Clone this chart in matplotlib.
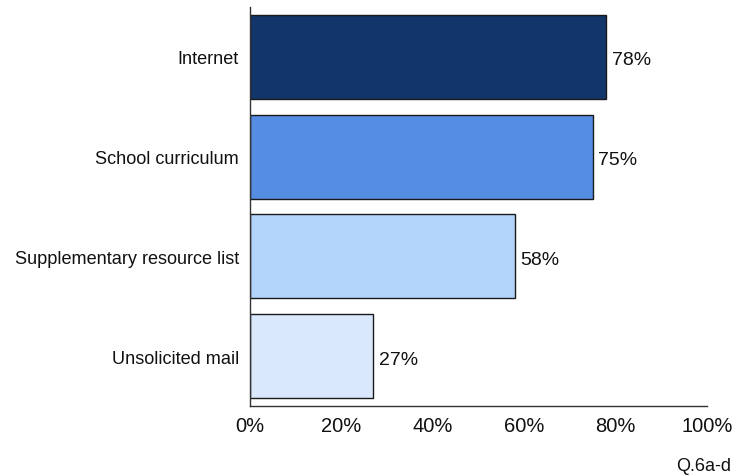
import matplotlib.pyplot as plt
from matplotlib.ticker import FuncFormatter

categories = ["Internet", "School curriculum", "Supplementary resource list", "Unsolicited mail"]
values = [78, 75, 58, 27]
colors = ["#13366A", "#558DE2", "#B3D5FC", "#DAE8FD"]
xticks = [0, 20, 40, 60, 80, 100]

plt.rcParams['font.family'] = ['Liberation Sans', 'DejaVu Sans']

fig = plt.figure(figsize=(7.33, 4.77), dpi=100)
ax = fig.add_axes([0.341, 0.147, 0.6235, 0.836])

ypos = range(len(categories))
bars = ax.barh(ypos, values, height=0.845, color=colors,
               edgecolor="#1a1a1a", linewidth=1.0)

# percentage labels just past the end of each bar
for y, v in zip(ypos, values):
    ax.text(v + 1.2, y + 0.03, f"{v}%", va="center", ha="left", fontsize=14, color="#111111")

ax.set_xlim(0, 100)
ax.set_ylim(len(categories) - 0.5, -0.5)
ax.set_xticks(xticks)
ax.xaxis.set_major_formatter(FuncFormatter(lambda x, p: f"{int(x)}%"))
ax.set_yticks(list(ypos))
ax.set_yticklabels(categories, fontsize=13.1)
ax.tick_params(axis="x", length=0, labelsize=14.5, pad=7, colors="#111111")
ax.tick_params(axis="y", length=0, pad=8, colors="#111111")

for side in ["top", "right"]:
    ax.spines[side].set_visible(False)
for side in ["left", "bottom"]:
    ax.spines[side].set_color("#333333")
    ax.spines[side].set_linewidth(1.0)

fig.text(0.997, 0.012, "Q.6a-d", ha="right", va="baseline", fontsize=13, color="#111111")

fig.savefig("out.png", dpi=100)
